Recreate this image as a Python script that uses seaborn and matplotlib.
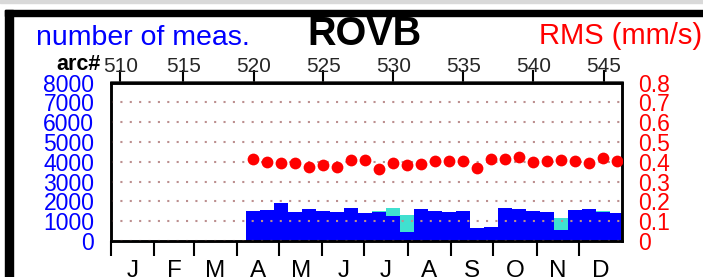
import numpy as np
import pandas as pd
import matplotlib
matplotlib.use("Agg")
import matplotlib.pyplot as plt
from matplotlib.patches import Rectangle
import seaborn as sns

# ---------------- data ----------------
arc_start_day = [96.5, 106.5, 116.5, 126.5, 136.5, 146.5, 156.5, 166.5, 176.5,
                 186.5, 196.5, 206.5, 216.5, 226.5, 236.5, 246.5, 256.5, 266.5,
                 276.5, 286.5, 296.5, 306.5, 316.5, 326.5, 336.5, 346.5, 356.5]
arc_len = 10.0
n_meas_total = [1500, 1580, 1920, 1460, 1590, 1520, 1450, 1670, 1400, 1490, 1650,
                1300, 1590, 1500, 1470, 1500, 680, 730, 1690, 1590, 1500, 1470,
                1165, 1540, 1590, 1490, 1390]
n_meas_used = [1500, 1540, 1920, 1440, 1590, 1490, 1440, 1650, 1400, 1450, 1270,
               460, 1590, 1500, 1470, 1500, 680, 690, 1690, 1590, 1500, 1470,
               580, 1540, 1590, 1470, 1390]
rms = [0.416, 0.401, 0.394, 0.396, 0.374, 0.384, 0.371, 0.409, 0.411, 0.361,
       0.392, 0.382, 0.387, 0.404, 0.402, 0.402, 0.367, 0.412, 0.414, 0.423,
       0.397, 0.404, 0.409, 0.406, 0.394, 0.418, 0.404]
arc_tick_labels = ["510", "515", "520", "525", "530", "535", "540", "545"]
arc_tick_days = [6.6, 51.6, 102.1, 151.6, 201.6, 251.6, 301.6, 352.1]
month_labels = ["J", "F", "M", "A", "M", "J", "J", "A", "S", "O", "N", "D"]
month_start = [0, 31, 59, 90, 120, 151, 181, 212, 243, 273, 304, 334]
month_days = [31, 28, 31, 30, 31, 30, 31, 31, 30, 31, 30, 31]
left_ticks = [0, 1000, 2000, 3000, 4000, 5000, 6000, 7000, 8000]
right_ticks = [0, 0.1, 0.2, 0.3, 0.4, 0.5, 0.6, 0.7, 0.8]
right_labels = ["0", "0.1", "0.2", "0.3", "0.4", "0.5", "0.6", "0.7", "0.8"]

df = pd.DataFrame({
    "center": np.array(arc_start_day) + arc_len / 2,
    "total": n_meas_total,
    "used": n_meas_used,
    "rms": rms,
})
edges = list(arc_start_day) + [arc_start_day[-1] + arc_len]

# ---------------- style ----------------
sns.set_theme(style="white")
plt.rcParams["font.family"] = ["Liberation Sans", "DejaVu Sans"]

W, H = 703, 277
fig = plt.figure(figsize=(W / 100, H / 100), dpi=100)
fig.patch.set_facecolor("white")

ax = fig.add_axes([111 / W, 1 - 241 / H, (622 - 111) / W, (241 - 82.5) / H])
ax.set_facecolor("white")

sns.histplot(data=df, x="center", weights="total", bins=edges, color="#40e0d0",
             alpha=1, linewidth=0, ax=ax, zorder=1)
sns.histplot(data=df, x="center", weights="used", bins=edges, color="#0000ff",
             alpha=1, linewidth=0, ax=ax, zorder=1.1)

ax.set_xlim(0, 365)
ax.set_ylim(0, 8000)
ax.set_xlabel("")
ax.set_ylabel("")

# grid
ax.set_yticks(left_ticks)
ax.set_yticklabels([str(t) for t in left_ticks])
ax.yaxis.grid(True, color="#bc8f8f", linewidth=1.5, linestyle=(0, (1, 3.5)))
ax.xaxis.grid(False)
ax.set_axisbelow(False)
ax.tick_params(axis="y", left=False, length=0, pad=12, labelsize=16.5,
               labelcolor="#0000ff")

# months
ax.set_xticks(month_start)
ax.set_xticklabels([""] * 12)
ax.set_xticks([s + d / 2 for s, d in zip(month_start, month_days)], minor=True)
ax.set_xticklabels(month_labels, minor=True)
ax.tick_params(axis="x", which="major", bottom=True, direction="out",
               length=10.5, width=1.5, color="black")
ax.tick_params(axis="x", which="minor", bottom=True, length=0, pad=13.5,
               labelsize=17.5, labelcolor="black")

for sp in ax.spines.values():
    sp.set_visible(True)
    sp.set_color("black")
    sp.set_linewidth(1.8)

# top arc axis
sec = ax.secondary_xaxis("top")
sec.set_xticks(arc_tick_days)
sec.set_xticklabels(arc_tick_labels)
sec.tick_params(axis="x", top=True, direction="out", length=9, width=1.5,
                color="black", pad=-4, labelsize=15)
sec.spines["top"].set_linewidth(1.8)

# RMS axis
ax2 = ax.twinx()
sns.scatterplot(data=df, x="center", y="rms", color="#ff0000", s=72,
                linewidth=0, ax=ax2, zorder=3)
ax2.set_ylim(0, 0.8)
ax2.set_xlim(0, 365)
ax2.set_yticks(right_ticks)
ax2.set_yticklabels(right_labels)
ax2.grid(False)
ax2.set_ylabel("")
ax2.set_xlabel("")
ax2.tick_params(axis="y", right=True, length=0, pad=11.5, labelsize=16.5,
                labelcolor="#ff0000")
for sp in ax2.spines.values():
    sp.set_color("black")
    sp.set_linewidth(1.8)

# texts
fig.text(36 / W, 1 - 45 / H, "number of meas.", color="#0000ff", fontsize=20.5,
         ha="left", va="baseline")
fig.text(364.5 / W, 1 - 45 / H, "ROVB", color="black", fontsize=28.5,
         fontweight="bold", ha="center", va="baseline")
fig.text(702 / W, 1 - 44 / H, "RMS (mm/s)", color="#ff0000", fontsize=21,
         ha="right", va="baseline")
fig.text(101 / W, 1 - 70 / H, "arc#", color="black", fontsize=15.5,
         fontweight="bold", ha="right", va="baseline")

# outer frame (partially visible)
fig.patches.append(Rectangle((5 / W, 0), 7.7 / W, 1 - 10 / H,
                             transform=fig.transFigure, color="black",
                             zorder=10))
fig.patches.append(Rectangle((5 / W, 1 - 15.7 / H), 1, 5.7 / H,
                             transform=fig.transFigure, color="black",
                             zorder=10))
fig.patches.append(Rectangle((0, 1 - 2.5 / H), 1, 2.5 / H,
                             transform=fig.transFigure, color="#d9d9d9",
                             zorder=10))

fig.savefig("out.png", dpi=100)
